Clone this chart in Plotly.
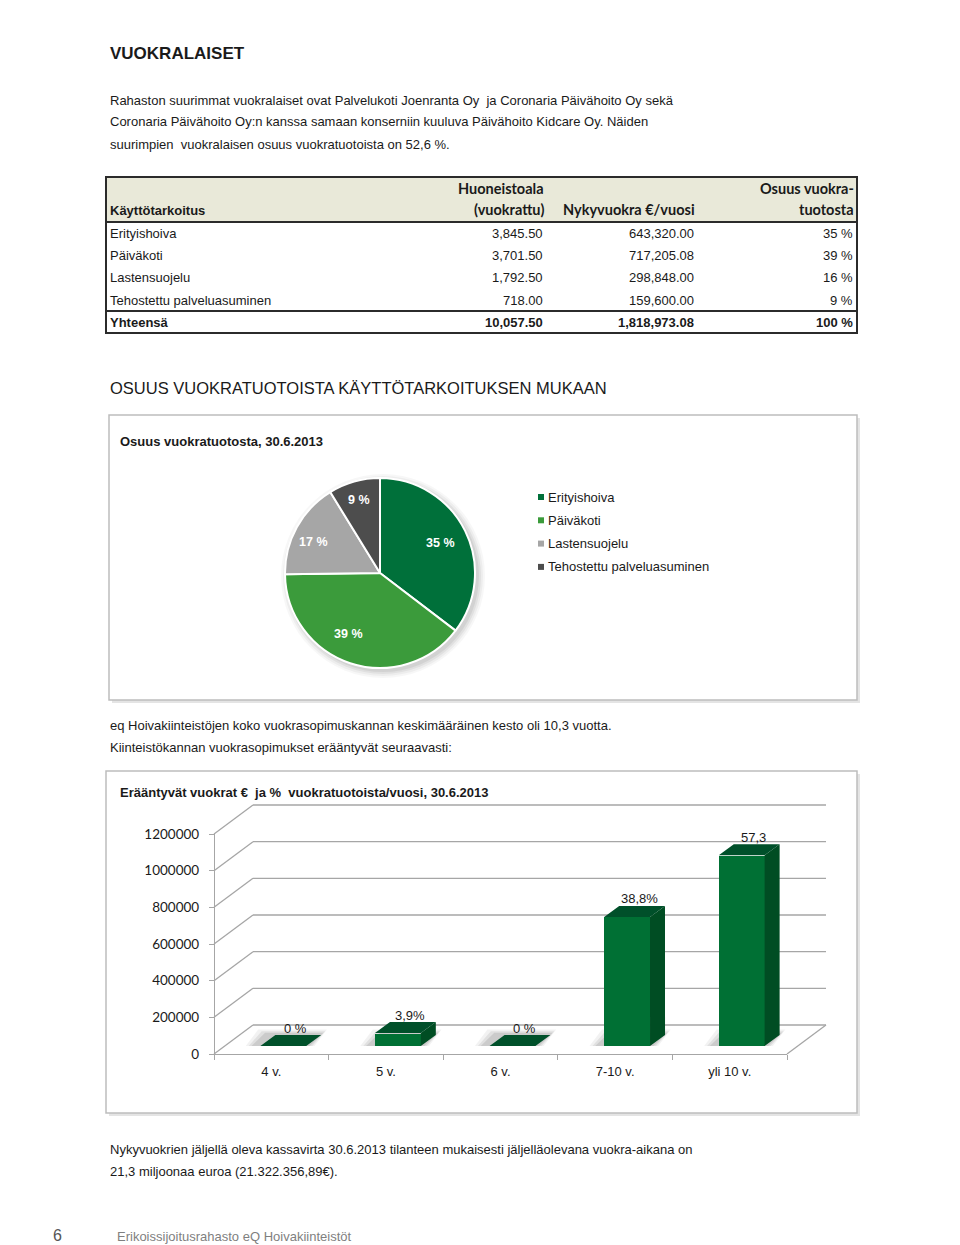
import plotly.graph_objects as go
import math

W, H = 960, 1245


def X(px):
    return px / W


def Y(py):
    return 1 - py / H


# ---------------- data ----------------
usage_types = ["Erityishoiva", "Päiväkoti", "Lastensuojelu", "Tehostettu palveluasuminen"]
area_rented = [3845.50, 3701.50, 1792.50, 718.00]
rent_per_year = [643320.00, 717205.08, 298848.00, 159600.00]
rent_share_pct = [35, 39, 16, 9]
total_label = "Yhteensä"
total_area = 10057.50
total_rent = 1818973.08
total_share = 100

pie_labels = ["35 %", "39 %", "17 %", "9 %"]
pie_colors = ["#00703a", "#3b9b3b", "#a6a6a6", "#4d4d4d"]

expiry_cats = ["4 v.", "5 v.", "6 v.", "7-10 v.", "yli 10 v."]
expiry_rent = [0, 70940, 0, 705762, 1042272]
expiry_labels = ["0 %", "3,9%", "0 %", "38,8%", "57,3"]
y_ticks = [0, 200000, 400000, 600000, 800000, 1000000, 1200000]

para1 = [
    "Rahaston suurimmat vuokralaiset ovat Palvelukoti Joenranta Oy\u00a0 ja Coronaria Päivähoito Oy sekä",
    "Coronaria Päivähoito Oy:n kanssa samaan konserniin kuuluva Päivähoito Kidcare Oy. Näiden",
    "suurimpien\u00a0 vuokralaisen osuus vuokratuotoista on 52,6 %.",
]
para2 = [
    "eq Hoivakiinteistöjen koko vuokrasopimuskannan keskimääräinen kesto oli 10,3 vuotta.",
    "Kiinteistökannan vuokrasopimukset erääntyvät seuraavasti:",
]
para3 = [
    "Nykyvuokrien jäljellä oleva kassavirta 30.6.2013 tilanteen mukaisesti jäljelläolevana vuokra-aikana on",
    "21,3 miljoonaa euroa (21.322.356,89€).",
]

# ---------------- helpers ----------------
ann = []
shapes = []
ARIAL = "Liberation Sans"
CAL = "Lato"
TXT = "#1a1a1a"


def txt(x, y, s, size=13, anchor="left", bold=False, color=TXT, family=ARIAL):
    ann.append(dict(x=X(x), y=Y(y), xref="paper", yref="paper",
                    text=("<b>" + s + "</b>") if bold else s, showarrow=False,
                    xanchor=anchor, yanchor="middle", borderpad=0,
                    font=dict(size=size, family=family, color=color)))


def line(x0, y0, x1, y1, color="#2b2b2b", width=2, layer="above"):
    shapes.append(dict(type="line", xref="paper", yref="paper",
                       x0=X(x0), y0=Y(y0), x1=X(x1), y1=Y(y1),
                       line=dict(color=color, width=width), layer=layer))


def rect(x0, y0, x1, y1, fill=None, color=None, width=0, layer="below"):
    shapes.append(dict(type="rect", xref="paper", yref="paper",
                       x0=X(x0), y0=Y(y0), x1=X(x1), y1=Y(y1),
                       fillcolor=fill if fill else "rgba(0,0,0,0)",
                       line=dict(color=color if color else "rgba(0,0,0,0)", width=width),
                       layer=layer))


# ---------------- page text ----------------
txt(109, 53, "VUOKRALAISET", size=17, bold=True)
for i, s in enumerate(para1):
    txt(109, 100 + 22 * i, s)

# ---------------- table ----------------
rect(106, 177, 857, 222, fill="#e9e9d9")
line(106, 177, 857, 177)
line(106, 222, 857, 222)
line(106, 311, 857, 311)
line(106, 333, 857, 333)
line(106, 176, 106, 334)
line(857, 176, 857, 334)

txt(109, 211, "Käyttötarkoitus", bold=True)
txt(545, 188, "Huoneistoala", size=14.5, anchor="right", bold=True, family=CAL)
txt(545, 210, "(vuokrattu)", size=14.5, anchor="right", bold=True, family=CAL)
txt(696, 210, "Nykyvuokra €/vuosi", size=14.5, anchor="right", bold=True, family=CAL)
txt(855, 188, "Osuus vuokra-", size=14.5, anchor="right", bold=True, family=CAL)
txt(855, 210, "tuotosta", size=14.5, anchor="right", bold=True, family=CAL)

row_y = [233, 255.5, 278, 300]
for yy, name, a, r, s in zip(row_y, usage_types, area_rented, rent_per_year, rent_share_pct):
    txt(109, yy, name)
    txt(544, yy, f"{a:,.2f}", anchor="right")
    txt(695, yy, f"{r:,.2f}", anchor="right")
    txt(854, yy, f"{s} %", anchor="right")
txt(109, 322.5, total_label, bold=True)
txt(544, 322.5, f"{total_area:,.2f}", anchor="right", bold=True)
txt(695, 322.5, f"{total_rent:,.2f}", anchor="right", bold=True)
txt(854, 322.5, f"{total_share} %", anchor="right", bold=True)

# ---------------- pie section ----------------
txt(109, 388, "OSUUS VUOKRATUOTOISTA KÄYTTÖTARKOITUKSEN MUKAAN", size=16.5)
rect(112, 418, 860, 703, fill="#e4e4e4")
rect(109, 415, 857, 700, fill="white", color="#bdbdbd", width=1.5)
txt(119, 441, "Osuus vuokratuotosta, 30.6.2013", bold=True)

PCX, PCY, PR = 380, 573, 95
# soft pie shadow
for k, a in enumerate([0.03, 0.04, 0.05, 0.06]):
    r = PR + 7 - 2 * k
    shapes.append(dict(type="circle", xref="paper", yref="paper",
                       x0=X(PCX + 3 - r), x1=X(PCX + 3 + r), y0=Y(PCY + 3 + r), y1=Y(PCY + 3 - r),
                       fillcolor=f"rgba(0,0,0,{a})", line=dict(width=0), layer="below"))

# pie slice labels placed around each slice's mid angle
tot = sum(rent_per_year)
cum = 0
label_r = [0.71, 0.72, 0.77, 0.80]
label_turn = [0, 9, -4, 0]
for v, lab, rf, dt in zip(rent_per_year, pie_labels, label_r, label_turn):
    mid = (cum + v / 2) / tot * 2 * math.pi + math.radians(dt)
    cum += v
    txt(PCX + rf * PR * math.sin(mid), PCY - rf * PR * math.cos(mid), "<b>" + lab + "</b>",
        size=12.5, anchor="center", color="white")

# legend (manual)
for i, (name, col) in enumerate(zip(usage_types, pie_colors)):
    yy = 497 + 23.3 * i
    rect(538, yy - 3, 544, yy + 3, fill=col, layer="above")
    txt(547, yy, name)

# ---------------- lease expiry section ----------------
for i, s in enumerate(para2):
    txt(109, 725 + 22 * i, s)
rect(109, 774, 860, 1116, fill="#e4e4e4")
rect(106, 771, 857, 1113, fill="white", color="#bdbdbd", width=1.5)
txt(119, 792, "Erääntyvät vuokrat €\u00a0 ja %\u00a0 vuokratuotoista/vuosi, 30.6.2013", bold=True)

# geometry of the 3D chart
LX0, LX1, LY0, LY1 = 214, 787, 1054, 834       # front (label) plane
DX, DY = 39, 29                                 # depth of the back wall
BX0, BX1, BY0, BY1 = 226, 799, 1046, 826.5      # plane of the bars
YMAX = 1200000
GRID = "#a6a6a6"


def py_front(v):
    return LY0 - (LY0 - LY1) * v / YMAX


for v in y_ticks:
    p = py_front(v)
    line(LX0, p, LX0 + DX, p - DY, color=GRID, width=1.3, layer="below")
    line(LX0 + DX, p - DY, LX1 + DX, p - DY, color=GRID, width=1.3, layer="below")
line(LX1, LY0, LX1 + DX, LY0 - DY, color=GRID, width=1.3, layer="below")

# bars: front, side and top faces
BW = 0.4
dxu = 15 / ((BX1 - BX0) / len(expiry_cats))
dyu = 11 / ((BY0 - BY1) / YMAX)
idx = list(range(len(expiry_cats)))

side_x, side_y, top_x, top_y = [], [], [], []
for i, v in zip(idx, expiry_rent):
    l, r = i - BW / 2, i + BW / 2
    top_x += [l, r, r + dxu, l + dxu, l, None]
    top_y += [v, v, v + dyu, v + dyu, v, None]
    if v > 0:
        side_x += [r, r, r + dxu, r + dxu, r, None]
        side_y += [0, v, v + dyu, dyu, 0, None]
    # floor shadow of each bar (data-referenced shape under the traces)
    for k, a in enumerate([0.05, 0.07, 0.09]):
        e = 0.10 - 0.03 * k
        ey = dyu * (0.5 - 0.15 * k)
        shapes.append(dict(type="path", xref="x", yref="y", layer="below",
                           path=f"M {l - e - 0.05},{-ey * 0.6} L {r + e * 0.5},{-ey * 0.6} "
                                f"L {r + dxu + e * 0.5},{dyu + ey} L {l + dxu - e - 0.05},{dyu + ey} Z",
                           fillcolor=f"rgba(0,0,0,{a})", line=dict(width=0)))

fig = go.Figure()
fig.add_trace(go.Bar(x=idx, y=expiry_rent, width=BW, marker=dict(color="#007034", line=dict(width=0)),
                     hoverinfo="skip", showlegend=False))
fig.add_trace(go.Scatter(x=side_x, y=side_y, fill="toself", mode="lines",
                         line=dict(width=0), fillcolor="#004d23",
                         hoverinfo="skip", showlegend=False))
fig.add_trace(go.Scatter(x=top_x, y=top_y, fill="toself", mode="lines",
                         line=dict(width=0), fillcolor="#00502a",
                         hoverinfo="skip", showlegend=False))
for i, v, lab in zip(idx, expiry_rent, expiry_labels):
    ann.append(dict(x=i, y=v, xref="x", yref="y", text=lab, showarrow=False,
                    xshift=12, yshift=18, yanchor="middle", borderpad=0,
                    font=dict(size=13, family=ARIAL, color=TXT)))

# axes of the front plane (labels)
fig.add_trace(go.Scatter(x=[None], y=[None], xaxis="x2", yaxis="y2",
                         hoverinfo="skip", showlegend=False))

# pie
fig.add_trace(go.Pie(values=rent_per_year, labels=usage_types,
                     textinfo="none", sort=False, direction="clockwise", rotation=0,
                     marker=dict(colors=pie_colors, line=dict(color="white", width=2)),
                     domain=dict(x=[X(PCX - PR), X(PCX + PR)], y=[Y(PCY + PR), Y(PCY - PR)]),
                     hoverinfo="skip", showlegend=False))

# closing text
for i, s in enumerate(para3):
    txt(109, 1149 + 22 * i, s)
txt(57, 1235, "6", size=16, anchor="center", color="#555555")
txt(116, 1236, "Erikoissijoitusrahasto eQ Hoivakiinteistöt", size=13, color="#7f7f7f")

fig.update_layout(
    width=W, height=H, autosize=False, margin=dict(l=0, r=0, t=0, b=0, pad=0),
    paper_bgcolor="white", plot_bgcolor="rgba(0,0,0,0)",
    showlegend=False, annotations=ann, shapes=shapes, bargap=0,
    xaxis=dict(domain=[X(BX0), X(BX1)], range=[-0.5, len(expiry_cats) - 0.5],
               visible=False, fixedrange=True, anchor="y", automargin=False),
    yaxis=dict(domain=[Y(BY0), Y(BY1)], range=[0, YMAX], visible=False,
               fixedrange=True, anchor="x", automargin=False),
    xaxis2=dict(domain=[X(LX0), X(LX1)], range=[-0.5, len(expiry_cats) - 0.5], anchor="y2",
                type="linear", tickvals=idx, ticktext=expiry_cats, ticks="",
                showline=True, linecolor=GRID, linewidth=1.3, showgrid=False, zeroline=False,
                tickfont=dict(size=13, family=ARIAL, color=TXT), ticklabelstandoff=5,
                minor=dict(tickvals=[i - 0.5 for i in range(len(expiry_cats) + 1)],
                           ticks="outside", ticklen=5, tickcolor=GRID, showgrid=False),
                fixedrange=True, automargin=False),
    yaxis2=dict(domain=[Y(LY0), Y(LY1)], range=[0, YMAX], anchor="free", position=X(LX0),
                type="linear", tickvals=y_ticks, ticktext=[str(v) for v in y_ticks],
                ticks="outside", ticklen=5, tickcolor=GRID, showline=True, linecolor=GRID,
                linewidth=1.3, showgrid=False, zeroline=False, ticklabelstandoff=7,
                tickfont=dict(size=13.5, family=CAL, color=TXT), fixedrange=True,
                automargin=False),
)

fig.write_html("out.html")
